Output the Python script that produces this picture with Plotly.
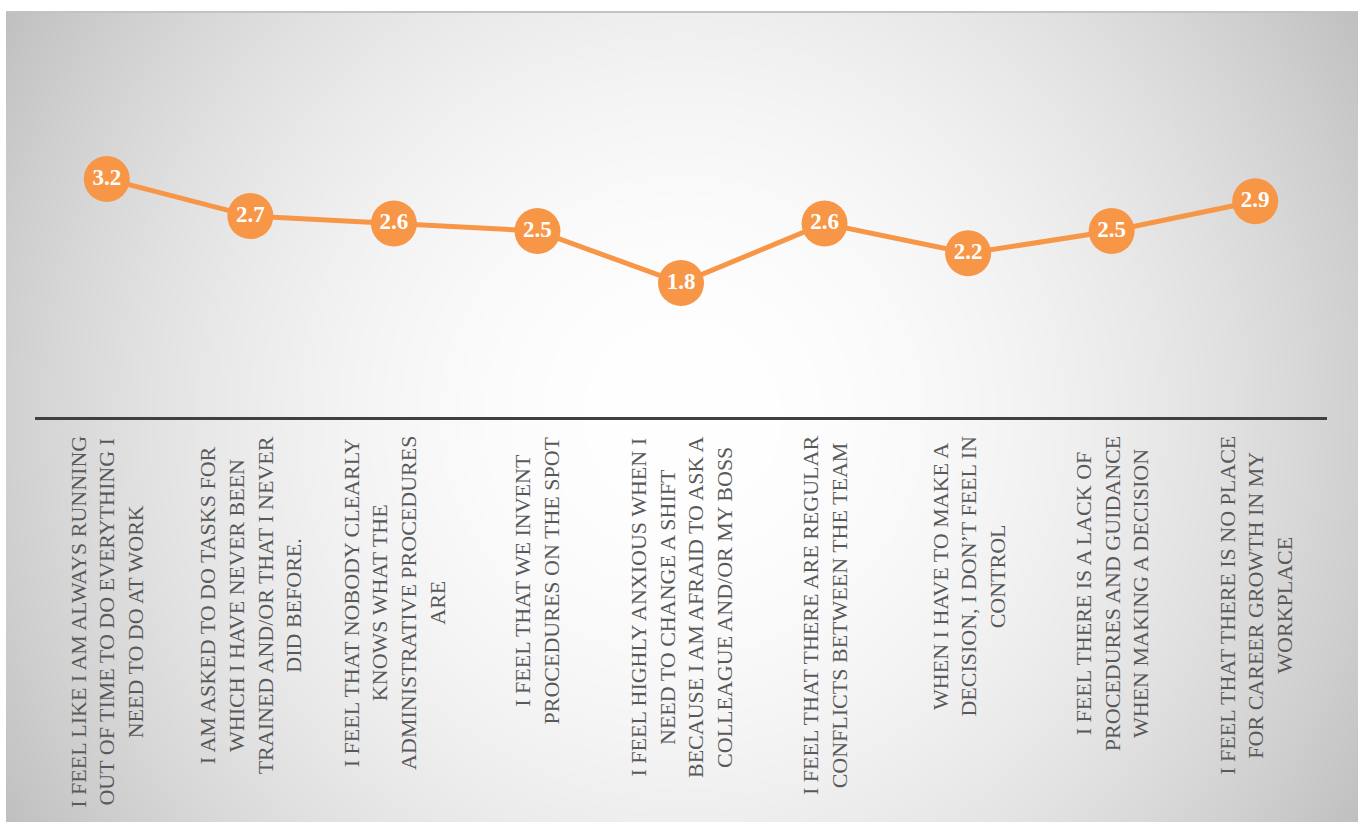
import base64
import struct
import zlib

import numpy as np
import plotly.graph_objects as go

# Survey statements (wrapped as they are printed under the axis)
categories = [
    "I FEEL LIKE I AM ALWAYS RUNNING<br>OUT OF TIME TO DO EVERYTHING I<br>NEED TO DO AT WORK",
    "I AM ASKED TO DO TASKS FOR<br>WHICH I HAVE NEVER BEEN<br>TRAINED AND/OR THAT I NEVER<br>DID BEFORE.",
    "I FEEL THAT NOBODY CLEARLY<br>KNOWS WHAT THE<br>ADMINISTRATIVE PROCEDURES<br>ARE",
    "I FEEL THAT WE INVENT<br>PROCEDURES ON THE SPOT",
    "I FEEL HIGHLY ANXIOUS WHEN I<br>NEED TO CHANGE A SHIFT<br>BECAUSE I AM AFRAID TO ASK A<br>COLLEAGUE AND/OR MY BOSS",
    "I FEEL THAT THERE ARE REGULAR<br>CONFLICTS BETWEEN THE TEAM",
    "WHEN I HAVE TO MAKE A<br>DECISION, I DON\u2019T FEEL IN<br>CONTROL",
    "I FEEL THERE IS A LACK OF<br>PROCEDURES AND GUIDANCE<br>WHEN MAKING A DECISION",
    "I FEEL THAT THERE IS NO PLACE<br>FOR CAREER GROWTH IN MY<br>WORKPLACE",
]

# Mean score per statement
scores = [3.2, 2.7, 2.6, 2.5, 1.8, 2.6, 2.2, 2.5, 2.9]

W, H = 1362, 822
ML, MR, MT, MB = 35, 35, 45, 405
ORANGE = "#F79646"
LABEL_GREY = "#595959"


def gray_png(arr):
    """Encode a 2-D uint8 array as a grayscale PNG."""
    h, w = arr.shape
    raw = b"".join(b"\x00" + arr[i].tobytes() for i in range(h))

    def chunk(tag, data):
        body = tag + data
        return struct.pack(">I", len(data)) + body + struct.pack(">I", zlib.crc32(body) & 0xFFFFFFFF)

    return (b"\x89PNG\r\n\x1a\n"
            + chunk(b"IHDR", struct.pack(">IIBBBBB", w, h, 8, 0, 0, 0, 0))
            + chunk(b"IDAT", zlib.compress(raw, 9))
            + chunk(b"IEND", b""))


# Radial white-to-grey backdrop panel
bx0, by0, bx1, by1 = 6, 11, 1358, 822
bw, bh = bx1 - bx0, by1 - by0
yy, xx = np.mgrid[0:bh, 0:bw].astype(float)
cx, cy = bw / 2.0, bh / 2.0
rad = np.hypot(cx, cy)
t = np.clip(np.hypot(xx - cx, yy - cy) / rad, 0, 1)
shade = 255 - 63 * t ** 2
shade[:2, :] = 195  # thin top rim
bg_uri = "data:image/png;base64," + base64.b64encode(gray_png(shade.astype(np.uint8))).decode()

plot_w = W - ML - MR
plot_h = H - MT - MB

fig = go.Figure()
fig.add_trace(go.Scatter(
    x=categories,
    y=scores,
    mode="lines+markers+text",
    line=dict(color=ORANGE, width=5),
    marker=dict(color=ORANGE, size=46, line=dict(width=0)),
    text=[f"{v:.1f}" for v in scores],
    textposition="middle center",
    textfont=dict(family="Liberation Serif", size=23, color="white", weight="bold"),
    hoverinfo="skip",
    cliponaxis=False,
))

# Statement labels, rotated and centred line by line below the axis
for cat in categories:
    fig.add_annotation(
        x=cat, y=0, xref="x", yref="y",
        text=cat, textangle=-90, align="center",
        xanchor="center", yanchor="top", yshift=-17,
        showarrow=False,
        font=dict(family="Liberation Serif", size=22, color=LABEL_GREY),
    )

fig.add_layout_image(dict(
    source=bg_uri, xref="paper", yref="paper",
    x=(bx0 - ML) / plot_w, y=(H - MB - by0) / plot_h,
    sizex=bw / plot_w, sizey=bh / plot_h,
    xanchor="left", yanchor="top", sizing="stretch", layer="below",
))

fig.update_layout(
    width=W, height=H,
    margin=dict(l=ML, r=MR, t=MT, b=MB),
    paper_bgcolor="white",
    plot_bgcolor="rgba(0,0,0,0)",
    showlegend=False,
    xaxis=dict(range=[-0.5, len(categories) - 0.5], autorange=False,
               showline=True, linecolor="#404040", linewidth=3, showgrid=False,
               zeroline=False, showticklabels=False, ticks="", fixedrange=True),
    yaxis=dict(range=[0, 5], visible=False, fixedrange=True),
)

fig.write_html("out.html", config={"displayModeBar": False})
